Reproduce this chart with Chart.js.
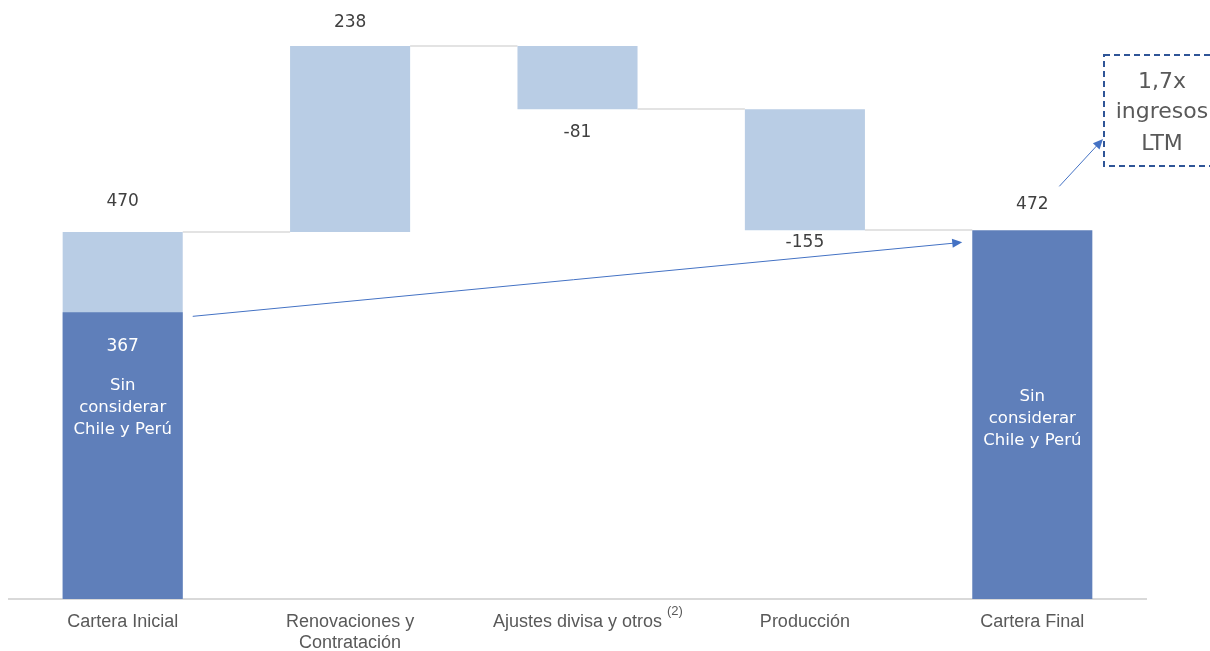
<!DOCTYPE html>
<html>
<head>
<meta charset="utf-8">
<script src="https://cdn.jsdelivr.net/npm/chart.js@4.4.1/dist/chart.umd.min.js"></script>
<style>
  body { margin: 0; background: #fff; }
  #wrap { width: 1210px; height: 651px; position: relative; }
</style>
</head>
<body>
<div id="wrap"><canvas id="chart"></canvas></div>
<script>
// waterfall data
const categories = ["Cartera Inicial", ["Renovaciones y", "Contratación"], "Ajustes divisa y otros", "Producción", "Cartera Final"];
const startTotal = 470;
const changes = [238, -81, -155];
const endTotal = 472;
const darkValues = [367, null, null, null, 472];
const darkNote = ["Sin", "considerar", "Chile y Perú"];
const multipleNote = ["1,7x", "ingresos", "LTM"];

const LIGHT = "#B9CDE5";
const DARK = "#5F7FBA";
const TEXT = "#404040";

// floating ranges for the light bars
const lightRanges = [[0, startTotal]];
let level = startTotal;
changes.forEach(c => {
    const next = level + c;
    lightRanges.push([Math.min(level, next), Math.max(level, next)]);
    level = next;
});
lightRanges.push(null);
const levels = [startTotal];
changes.reduce((acc, c) => { levels.push(acc + c); return acc + c; }, startTotal);

const barLabels = [String(startTotal), ...changes.map(c => String(c)), String(endTotal)];

function arrow(ctx, x1, y1, x2, y2, color) {
    const ang = Math.atan2(y2 - y1, x2 - x1);
    const head = 10;
    ctx.save();
    ctx.strokeStyle = color;
    ctx.fillStyle = color;
    ctx.lineWidth = 1;
    ctx.beginPath();
    ctx.moveTo(x1, y1);
    ctx.lineTo(x2 - Math.cos(ang) * head * 0.8, y2 - Math.sin(ang) * head * 0.8);
    ctx.stroke();
    ctx.beginPath();
    ctx.moveTo(x2, y2);
    ctx.lineTo(x2 - head * Math.cos(ang) + 4.5 * Math.sin(ang), y2 - head * Math.sin(ang) - 4.5 * Math.cos(ang));
    ctx.lineTo(x2 - head * Math.cos(ang) - 4.5 * Math.sin(ang), y2 - head * Math.sin(ang) + 4.5 * Math.cos(ang));
    ctx.closePath();
    ctx.fill();
    ctx.restore();
}

const waterfallExtras = {
    id: "waterfallExtras",
    beforeDatasetsDraw(chart) {
        // connector lines between bars
        const ctx = chart.ctx;
        const light = chart.getDatasetMeta(1).data;
        const dark = chart.getDatasetMeta(0).data;
        const y = chart.scales.y;
        ctx.save();
        ctx.strokeStyle = "#e3e3e3";
        ctx.lineWidth = 2;
        for (let i = 0; i < levels.length; i++) {
            const from = light[i];
            const to = i + 1 < levels.length ? light[i + 1] : dark[4];
            const py = Math.round(y.getPixelForValue(levels[i]));
            ctx.beginPath();
            ctx.moveTo(from.x + from.width / 2, py);
            ctx.lineTo(to.x - to.width / 2, py);
            ctx.stroke();
        }
        ctx.restore();
    },
    afterDraw(chart) {
        const ctx = chart.ctx;
        const light = chart.getDatasetMeta(1).data;
        const dark = chart.getDatasetMeta(0).data;
        ctx.save();
        ctx.textAlign = "center";
        ctx.textBaseline = "middle";
        ctx.font = "17px 'DejaVu Sans'";
        ctx.fillStyle = TEXT;

        // value labels
        const above = [30, 23, 0, 0];
        const below = [0, 0, 23, 12];
        for (let i = 0; i < 4; i++) {
            const el = light[i];
            const top = Math.min(el.y, el.base);
            const bottom = Math.max(el.y, el.base);
            const ly = above[i] ? top - above[i] : bottom + below[i];
            ctx.fillText(barLabels[i], el.x, ly);
        }
        const fin = dark[4];
        ctx.fillText(barLabels[4], fin.x, fin.y - 26);

        // text inside dark bars
        ctx.fillStyle = "#ffffff";
        const first = dark[0];
        ctx.fillText(String(darkValues[0]), first.x, first.y + 34);
        ctx.font = "16.5px 'DejaVu Sans'";
        darkNote.forEach((t, k) => ctx.fillText(t, first.x, first.y + 73 + k * 22));
        darkNote.forEach((t, k) => ctx.fillText(t, fin.x, fin.y + 166 + k * 22));

        // superscript on the third category
        const xs = chart.scales.x;
        ctx.font = "18px 'Liberation Sans'";
        const w = ctx.measureText(categories[2]).width;
        ctx.font = "13px 'Liberation Sans'";
        ctx.fillStyle = "#595959";
        ctx.textAlign = "left";
        ctx.fillText("(2)", xs.getPixelForValue(2) + w / 2 + 5, 611);

        // arrow from the first dark bar to the final bar
        arrow(ctx, first.x + first.width / 2 + 10, first.y + 4, fin.x - fin.width / 2 - 10, fin.y + 12, "#4472C4");

        // dashed annotation box
        ctx.strokeStyle = "#2F5597";
        ctx.lineWidth = 2;
        ctx.setLineDash([6, 4]);
        ctx.strokeRect(1104, 55, 130, 111);
        ctx.setLineDash([]);
        ctx.fillStyle = "#595959";
        ctx.textAlign = "center";
        ctx.font = "22px 'DejaVu Sans'";
        const ny = [82, 112, 144];
        multipleNote.forEach((t, k) => ctx.fillText(t, 1162, ny[k]));
        arrow(ctx, fin.x + 27, fin.y - 44, 1103, 139, "#4472C4");
        ctx.restore();
    }
};

new Chart(document.getElementById("chart"), {
    type: "bar",
    data: {
        labels: categories,
        datasets: [
            {
                label: "Sin Chile y Perú",
                data: darkValues,
                backgroundColor: DARK,
                grouped: false,
                categoryPercentage: 1,
                barPercentage: 0.528
            },
            {
                label: "Cartera",
                data: lightRanges,
                backgroundColor: LIGHT,
                grouped: false,
                categoryPercentage: 1,
                barPercentage: 0.528
            }
        ]
    },
    options: {
        responsive: true,
        maintainAspectRatio: false,
        animation: false,
        layout: { padding: { left: 9, right: 64, top: 21, bottom: 0 } },
        plugins: {
            legend: { display: false },
            tooltip: { enabled: false }
        },
        scales: {
            x: {
                grid: { display: false },
                border: { display: true, color: "#d9d9d9", width: 2 },
                ticks: {
                    color: "#595959",
                    font: { family: "'Liberation Sans', Arial", size: 18, lineHeight: 1.2 },
                    padding: 4,
                    maxRotation: 0,
                    autoSkip: false
                },
                afterFit: (scale) => { scale.height = 52; }
            },
            y: {
                display: false,
                min: 0,
                max: 740
            }
        }
    },
    plugins: [waterfallExtras]
});
</script>
</body>
</html>
